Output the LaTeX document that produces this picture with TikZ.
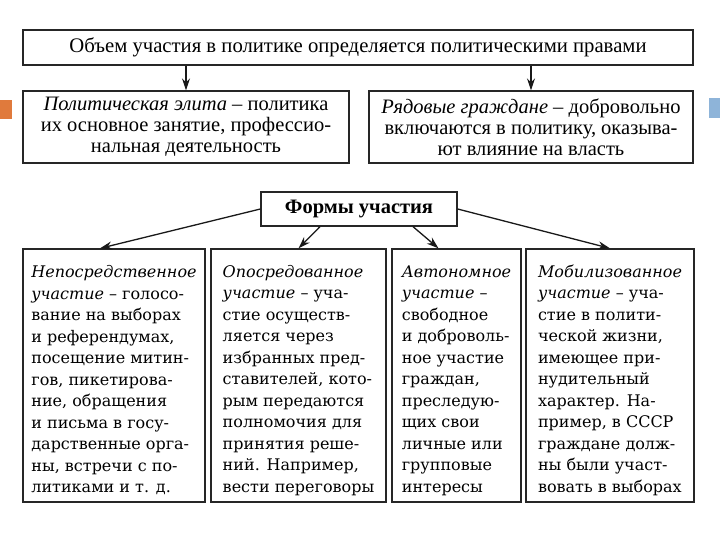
\documentclass[tikz,border=0pt]{standalone}
\usepackage{fontspec}
\setmainfont{Liberation Serif}
\newfontfamily\bodyfont{DejaVu Serif}
\usetikzlibrary{arrows.meta}
\definecolor{accorange}{RGB}{224,122,60}
\definecolor{accblue}{RGB}{142,180,217}
\newcommand{\firstline}{\rule{0pt}{22pt}}
\begin{document}
\begin{tikzpicture}[x=1pt,y=1pt,
  box/.style={draw=black!85, line width=1.3pt, inner sep=0pt, align=center},
  lowbox/.style={box, minimum height=253pt, align=left, font=\bodyfont\fontsize{16}{21.5}\selectfont},
  arr/.style={draw=black!90, line width=1.3pt, -{Stealth[length=12pt,width=8pt]}}]
\useasboundingbox (0,0) rectangle (720,-540);
\fill[white] (0,0) rectangle (720,-540);
% accent squares
\fill[accorange] (0,-100) rectangle (12,-119);
\fill[accblue] (709,-98) rectangle (720,-118);
% top row
\node[box, minimum width=670pt, minimum height=35pt, font=\fontsize{20.7}{21}\selectfont] (top) at (358,-47.5)
  {Объем участия в политике определяется политическими правами};
\node[box, minimum width=326pt, minimum height=72pt, font=\fontsize{20.5}{21}\selectfont] (elite) at (186,-127)
  {\textit{Политическая элита} – политика\\их основное занятие, профессио-\\нальная деятельность};
\node[box, minimum width=324pt, minimum height=72pt, font=\fontsize{20.5}{21}\selectfont] (citizens) at (531,-127)
  {\textit{Рядовые граждане} – добровольно\\включаются в политику, оказыва-\\ют влияние на власть};
\draw[arr] (top.south -| elite.north) -- (elite.north);
\draw[arr] (top.south -| citizens.north) -- (citizens.north);
% forms
\node[box, minimum width=196pt, minimum height=34pt, font=\bfseries\fontsize{20.5}{21}\selectfont] (forms) at (359,-209)
  {Формы участия};
% bottom boxes
\node[lowbox, minimum width=182pt] (b1) at (114,-375.5)
  {\firstline\textit{Непосредственное}\\\textit{участие} – голосо-\\вание на выборах\\и референдумах,\\посещение митин-\\гов, пикетирова-\\ние, обращения\\и письма в госу-\\дарственные орга-\\ны, встречи с по-\\литиками и т. д.};
\node[lowbox, minimum width=175pt] (b2) at (298.5,-375.5)
  {\firstline\textit{Опосредованное}\\\textit{участие} – уча-\\стие осуществ-\\ляется через\\избранных пред-\\ставителей, кото-\\рым передаются\\полномочия для\\принятия реше-\\ний. Например,\\вести переговоры};
\node[lowbox, minimum width=129pt] (b3) at (456.5,-375.5)
  {\firstline\textit{Автономное}\\\textit{участие} –\\свободное\\и доброволь-\\ное участие\\граждан,\\преследую-\\щих свои\\личные или\\групповые\\интересы};
\node[lowbox, minimum width=168pt] (b4) at (610,-375.5)
  {\firstline\textit{Мобилизованное}\\\textit{участие} – уча-\\стие в полити-\\ческой жизни,\\имеющее при-\\нудительный\\характер. На-\\пример, в СССР\\граждане долж-\\ны были участ-\\вовать в выборах};
\draw[arr] (forms.west) -- ([xshift=-14pt]b1.north);
\draw[arr] ([xshift=-39pt]forms.south) -- (b2.north);
\draw[arr] ([xshift=54pt]forms.south) -- ([xshift=-18pt]b3.north);
\draw[arr] (forms.east) -- (b4.north);
\end{tikzpicture}
\end{document}
